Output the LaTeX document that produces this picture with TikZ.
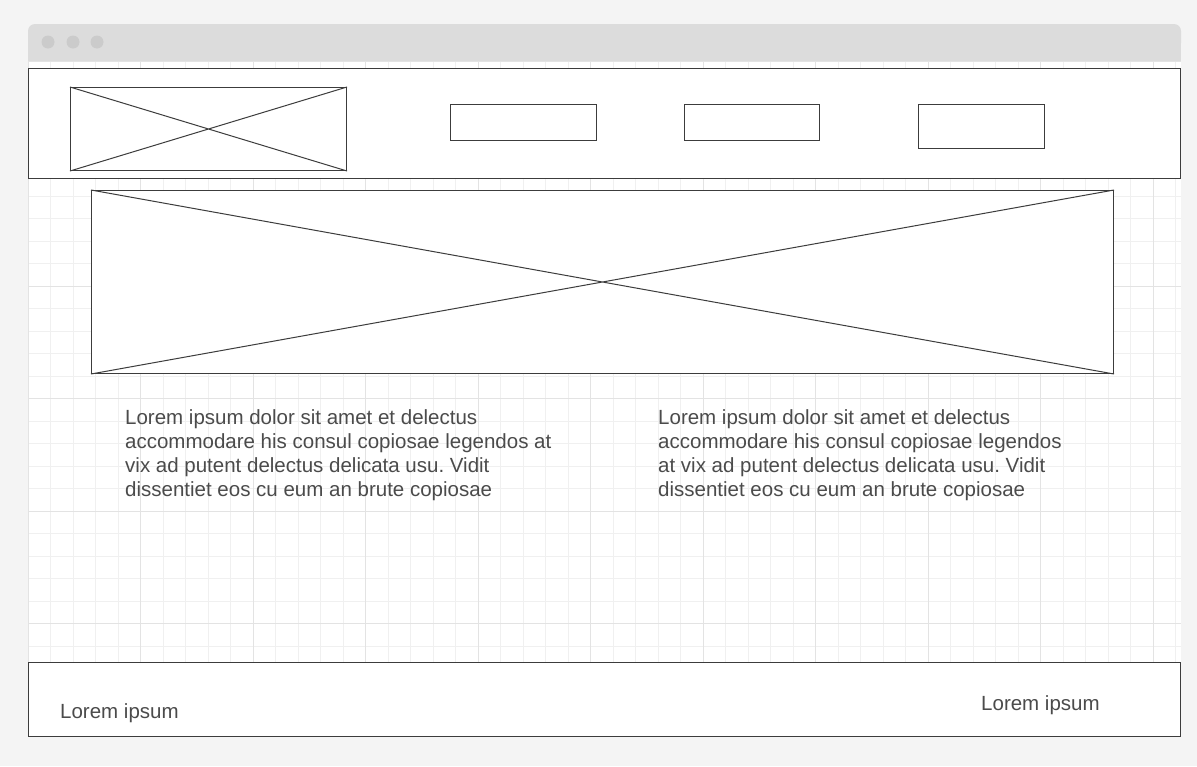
\documentclass[tikz,border=0pt]{standalone}
\usepackage{fontspec}
\setmainfont{Liberation Sans}
\frenchspacing
\definecolor{pagebg}{RGB}{244,244,244}
\definecolor{barbg}{RGB}{220,220,220}
\definecolor{dotgray}{RGB}{203,203,203}
\definecolor{linegray}{RGB}{60,60,60}
\definecolor{textgray}{RGB}{75,75,75}
\definecolor{gridminor}{RGB}{240,240,240}
\definecolor{gridmajor}{RGB}{227,227,227}
\begin{document}
\begin{tikzpicture}[x=1pt, y=-1pt,
  wire/.style={draw=linegray, line width=1pt, fill=white, inner sep=0pt, anchor=north west},
  bodytext/.style={text=textgray, font=\fontsize{20.5}{24}\selectfont, inner sep=0pt, align=left, anchor=base west}]
  % Page
  \useasboundingbox (0,0) rectangle (1197,766);
  \fill[pagebg] (0,0) rectangle (1197,766);

  % Browser window
  \fill[barbg, rounded corners=7pt] (28,24) rectangle (1181,50);
  \fill[barbg] (28,40) rectangle (1181,61);
  \fill[white] (28,61) rectangle (1181,737);
  \foreach \dx in {48,73,97}
    \fill[dotgray] (\dx,42) circle (6.5pt);

  % Grid
  \foreach \i in {0,...,51}
    \draw[gridminor, line width=1pt] ({28+22.5*\i},61) -- ({28+22.5*\i},737);
  \foreach \j in {0,...,30}
    \draw[gridminor, line width=1pt] (28,{61+22.5*\j}) -- (1181,{61+22.5*\j});
  \foreach \i in {0,...,10}
    \draw[gridmajor, line width=1pt] ({28+112.5*\i},61) -- ({28+112.5*\i},737);
  \foreach \j in {0,...,6}
    \draw[gridmajor, line width=1pt] (28,{61+112.5*\j}) -- (1181,{61+112.5*\j});

  % Header
  \node[wire, minimum width=1152pt, minimum height=110pt] (header) at (28,68) {};
  \node[wire, minimum width=276pt, minimum height=83pt] (logo) at (70,87) {};
  \draw[linegray, line width=1pt] (logo.north west) -- (logo.south east) (logo.south west) -- (logo.north east);
  \node[wire, minimum width=146pt, minimum height=36pt] (menuA) at (450,104) {};
  \node[wire, minimum width=135pt, minimum height=36pt] (menuB) at (684,104) {};
  \node[wire, minimum width=126pt, minimum height=44pt] (menuC) at (918,104) {};

  % Hero image
  \node[wire, minimum width=1022pt, minimum height=183pt] (hero) at (91,190) {};
  \draw[linegray, line width=1pt] (hero.north west) -- (hero.south east) (hero.south west) -- (hero.north east);

  % Text columns (base = last line)
  \node[bodytext] (colA) at (125,496) {Lorem ipsum dolor sit amet et delectus\\
    accommodare his consul copiosae legendos at\\
    vix ad putent delectus delicata usu. Vidit\\
    dissentiet eos cu eum an brute copiosae};
  \node[bodytext] (colB) at (658,496) {Lorem ipsum dolor sit amet et delectus\\
    accommodare his consul copiosae legendos\\
    at vix ad putent delectus delicata usu. Vidit\\
    dissentiet eos cu eum an brute copiosae};

  % Footer
  \node[wire, minimum width=1152pt, minimum height=74pt] (footer) at (28,662) {};
  \node[bodytext] (footL) at (60,718) {Lorem ipsum};
  \node[bodytext] (footR) at (981,710) {Lorem ipsum};
\end{tikzpicture}
\end{document}
